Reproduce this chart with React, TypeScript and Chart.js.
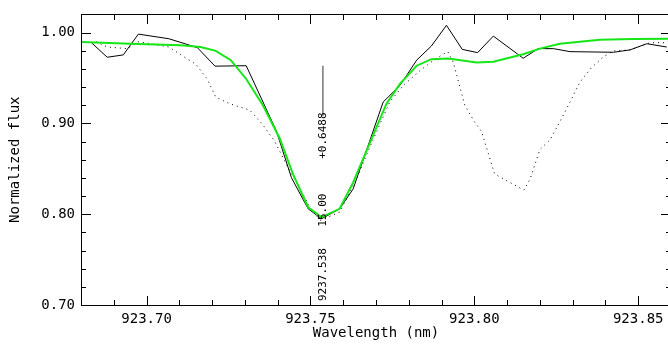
import { useEffect, useRef } from "react";
import { Chart, registerables } from "chart.js";

Chart.register(...registerables);

// Observed spectrum (solid black)
const obsX = [923.6832, 923.688, 923.6929, 923.6975, 923.7068, 923.7155, 923.7209, 923.7304, 923.7396, 923.7442, 923.7493, 923.7534, 923.7589, 923.763, 923.7722, 923.7773, 923.7824, 923.7869, 923.7915, 923.7963, 923.801, 923.8058, 923.8149, 923.8195, 923.8241, 923.8292, 923.8424, 923.8475, 923.8526, 923.8587];
const obsY = [0.9888, 0.9728, 0.9754, 0.9983, 0.9932, 0.9834, 0.963, 0.9635, 0.8917, 0.8402, 0.8059, 0.795, 0.8059, 0.8276, 0.9236, 0.9417, 0.9696, 0.9852, 1.008, 0.9815, 0.9779, 0.9961, 0.9717, 0.9823, 0.9823, 0.979, 0.9783, 0.9809, 0.9877, 0.9841];

// Fit (green)
const fitX = [923.6798, 923.6951, 923.7104, 923.7165, 923.7211, 923.7257, 923.7304, 923.7355, 923.7406, 923.7447, 923.7493, 923.7534, 923.7589, 923.763, 923.7681, 923.7732, 923.7773, 923.7824, 923.7869, 923.792, 923.8007, 923.8058, 923.8149, 923.82, 923.8261, 923.8383, 923.8485, 923.86];
const fitY = [0.9896, 0.9877, 0.9859, 0.9841, 0.9798, 0.9696, 0.9489, 0.92, 0.8837, 0.8439, 0.8076, 0.7967, 0.8059, 0.8348, 0.8783, 0.9217, 0.9435, 0.9635, 0.9707, 0.9714, 0.9671, 0.9678, 0.9761, 0.9823, 0.9877, 0.9921, 0.9928, 0.9932];

// Second spectrum (dotted black)
const dotX = [923.6846, 923.688, 923.6941, 923.6976, 923.7012, 923.7068, 923.7114, 923.715, 923.7185, 923.7211, 923.7253, 923.7315, 923.7355, 923.7391, 923.7432, 923.7472, 923.7498, 923.753, 923.7589, 923.764, 923.7691, 923.7742, 923.7783, 923.7834, 923.788, 923.7919, 923.7936, 923.7956, 923.7971, 923.7997, 923.8022, 923.8062, 923.8151, 923.817, 923.82, 923.8231, 923.8261, 923.8292, 923.8322, 923.8358, 923.8394, 923.8424, 923.8475, 923.8536, 923.8587];
const dotY = [0.9899, 0.9841, 0.9823, 0.9899, 0.9877, 0.9841, 0.9733, 0.9652, 0.9489, 0.929, 0.9217, 0.9146, 0.8983, 0.8801, 0.8511, 0.8258, 0.8076, 0.7932, 0.8022, 0.8385, 0.882, 0.9236, 0.9417, 0.958, 0.9707, 0.979, 0.9671, 0.9399, 0.92, 0.9037, 0.891, 0.8442, 0.8265, 0.8385, 0.8711, 0.882, 0.9018, 0.9236, 0.9453, 0.9616, 0.9733, 0.9798, 0.9809, 0.9888, 0.9888];

const xTicks = [923.7, 923.75, 923.8, 923.85];
const yTicks = [0.7, 0.8, 0.9, 1.0];
const xMinor = [923.68, 923.69, 923.7, 923.71, 923.72, 923.73, 923.74, 923.75, 923.76, 923.77, 923.78, 923.79, 923.8, 923.81, 923.82, 923.83, 923.84, 923.85, 923.86];
const yMinor = [0.7, 0.72, 0.74, 0.76, 0.78, 0.8, 0.82, 0.84, 0.86, 0.88, 0.9, 0.92, 0.94, 0.96, 0.98, 1.0, 1.02];

// Line annotation
const annotX = 923.7538;
const annotLineY = [0.9634, 0.908];
const annotLabels = ["+0.6488", "15.00", "9237.538"];
const annotLabelY = [0.8865, 0.8045, 0.7335];

const FONT = "'DejaVu Sans Mono', monospace";

const toPts = (xs: number[], ys: number[]) => xs.map((x, i) => ({ x, y: ys[i] }));

const framePlugin = {
  id: "frame",
  afterDraw(chart: any) {
    const ctx: CanvasRenderingContext2D = chart.ctx;
    const a = chart.chartArea;
    const xs = chart.scales.x;
    const ys = chart.scales.y;
    const L = Math.round(a.left);
    const R = Math.round(a.right);
    const T = Math.round(a.top);
    const B = Math.round(a.bottom);
    ctx.save();
    ctx.fillStyle = "#000000";
    // frame
    ctx.fillRect(L, T, R - L + 1, 1);
    ctx.fillRect(L, B, R - L + 1, 1);
    ctx.fillRect(L, T, 1, B - T + 1);
    ctx.fillRect(R, T, 1, B - T + 1);
    // x ticks (inward, bottom and top)
    xMinor.forEach((v) => {
      const major = xTicks.some((t) => Math.abs(t - v) < 1e-6);
      const px = Math.round(xs.getPixelForValue(v));
      const lb = major ? 9 : 5;
      const lt = major ? 10 : 6;
      ctx.fillRect(px, B - lb, 1, lb);
      ctx.fillRect(px, T, 1, lt);
    });
    // y ticks (inward, left and right)
    yMinor.forEach((v) => {
      const major = yTicks.some((t) => Math.abs(t - v) < 1e-6);
      const len = major ? 10 : 5;
      const py = Math.round(ys.getPixelForValue(v));
      ctx.fillRect(L, py, len, 1);
      ctx.fillRect(R - len, py, len, 1);
    });

    // annotation
    const ax = xs.getPixelForValue(annotX);
    ctx.strokeStyle = "#777";
    ctx.lineWidth = 1.5;
    ctx.beginPath();
    ctx.moveTo(ax, ys.getPixelForValue(annotLineY[0]));
    ctx.lineTo(ax, ys.getPixelForValue(annotLineY[1]));
    ctx.stroke();
    ctx.fillStyle = "#000";
    ctx.font = `11px ${FONT}`;
    ctx.textAlign = "center";
    ctx.textBaseline = "middle";
    annotLabels.forEach((t, i) => {
      ctx.save();
      ctx.translate(ax, ys.getPixelForValue(annotLabelY[i]));
      ctx.rotate(-Math.PI / 2);
      ctx.fillText(t, 0, 0);
      ctx.restore();
    });
    ctx.restore();
  },
};

export default function App() {
  const ref = useRef<HTMLCanvasElement>(null);
  useEffect(() => {
    const canvas = ref.current!;
    const chart = new Chart(canvas, {
      type: "line",
      data: {
        datasets: [
          { label: "fit", data: toPts(fitX, fitY), borderColor: "#16e616", borderWidth: 2, pointRadius: 0, tension: 0, fill: false },
          { label: "observed", data: toPts(obsX, obsY), borderColor: "#000", borderWidth: 1, pointRadius: 0, tension: 0, fill: false },
          { label: "dotted", data: toPts(dotX, dotY), borderColor: "#000", borderWidth: 1, borderDash: [1, 4], pointRadius: 0, tension: 0, fill: false },
        ],
      },
      options: {
        responsive: false,
        animation: false,
        devicePixelRatio: 1,
        layout: { padding: { top: 10, right: 9, left: 0, bottom: 0 } },
        plugins: { legend: { display: false }, tooltip: { enabled: false } },
        scales: {
          x: {
            type: "linear",
            min: 923.68,
            max: 923.86,
            grid: { display: false, drawTicks: false, tickLength: 0 },
            border: { display: false },
            afterBuildTicks: (s: any) => {
              s.ticks = xTicks.map((v) => ({ value: v }));
            },
            afterFit: (s: any) => {
              s.height = 40;
            },
            ticks: { padding: 6, color: "#000", autoSkip: false, maxRotation: 0, font: { family: FONT, size: 14 }, callback: (v: any) => Number(v).toFixed(2) },
            title: { display: true, text: "Wavelength (nm)", color: "#000", font: { family: FONT, size: 14 }, padding: { top: 0, bottom: 3 } },
          },
          y: {
            type: "linear",
            min: 0.7,
            max: 1.02,
            grid: { display: false, drawTicks: false, tickLength: 0 },
            border: { display: false },
            afterBuildTicks: (s: any) => {
              s.ticks = yTicks.map((v) => ({ value: v }));
            },
            afterFit: (s: any) => {
              s.width = 81;
            },
            ticks: { padding: 6, color: "#000", autoSkip: false, font: { family: FONT, size: 14 }, callback: (v: any) => Number(v).toFixed(2) },
            title: { display: true, text: "Normalized flux", color: "#000", font: { family: FONT, size: 14 }, padding: { top: 7, bottom: 0 } },
          },
        },
      },
      plugins: [framePlugin],
    });
    return () => chart.destroy();
  }, []);
  return (
    <div style={{ position: "fixed", left: 0, top: 0, width: 668, height: 345, overflow: "hidden", background: "#fff" }}>
      <canvas ref={ref} width={680} height={345} style={{ display: "block" }} />
    </div>
  );
}
